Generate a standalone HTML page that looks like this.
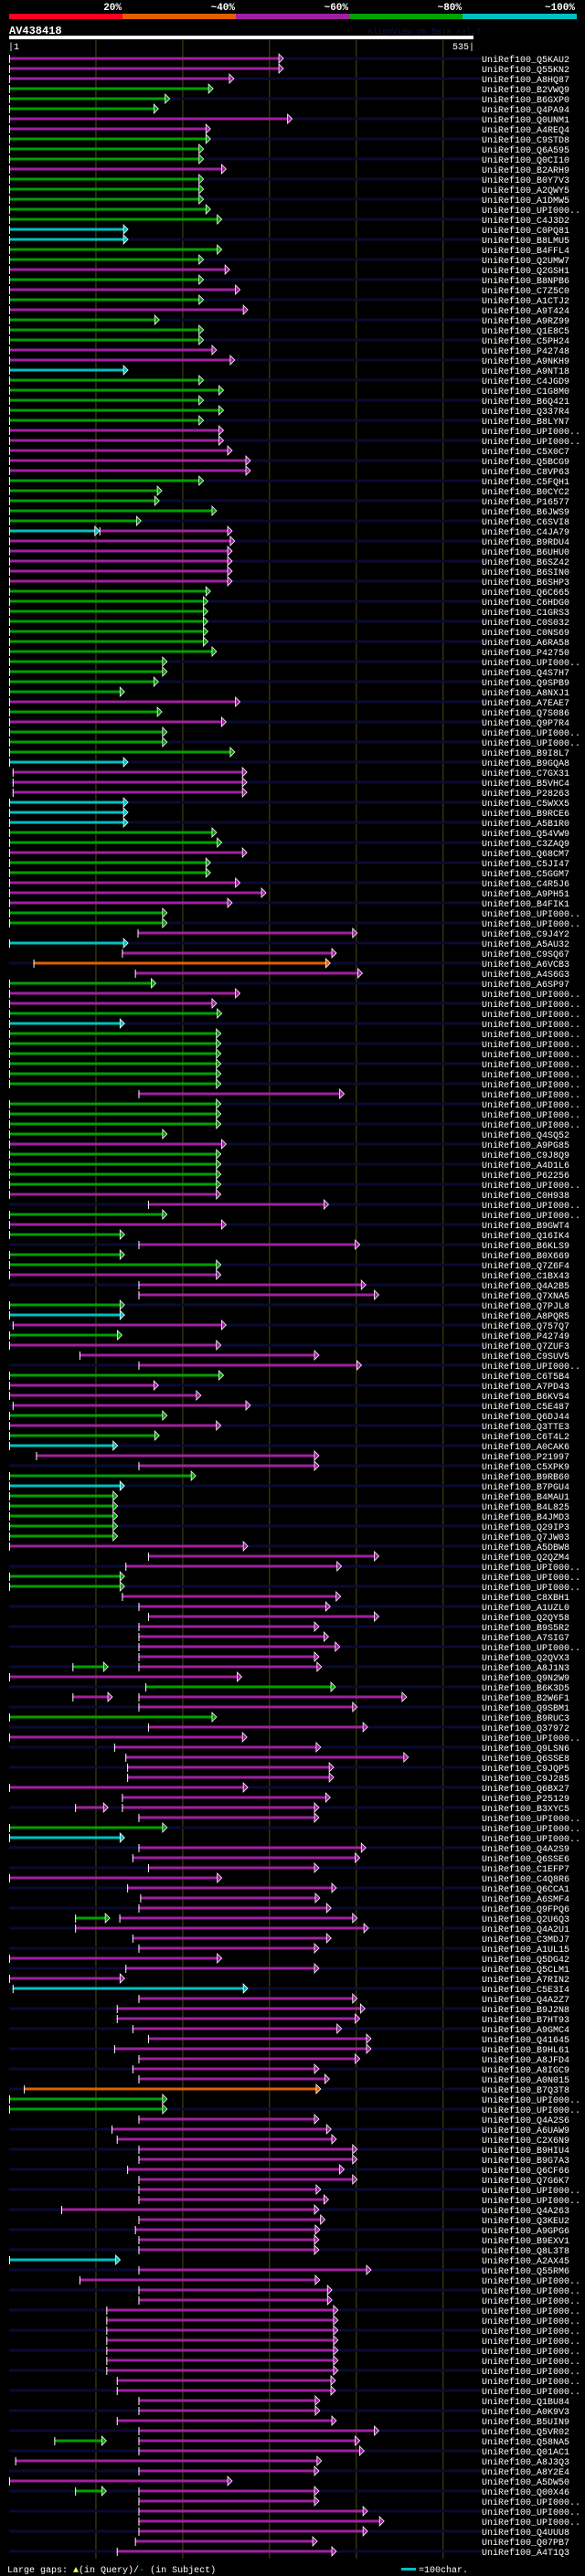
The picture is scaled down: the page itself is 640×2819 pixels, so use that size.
<!DOCTYPE html>
<html><head><meta charset="utf-8"><title>AV438418 alignment</title>
<style>
html,body{margin:0;padding:0;background:#000;}
svg{display:block;font-family:"Liberation Mono","DejaVu Sans Mono",monospace;}
</style></head>
<body>
<svg id="chart" width="640" height="2819" viewBox="0 0 640 2819" xmlns="http://www.w3.org/2000/svg">
<rect x="0" y="0" width="640" height="2819" fill="#000"/>
<g font-weight="bold" font-size="11" fill="#fff" text-anchor="end">
<text x="133" y="11">20%</text>
<text x="257" y="11">~40%</text>
<text x="381" y="11">~60%</text>
<text x="505" y="11">~80%</text>
<text x="629" y="11">~100%</text>
</g>
<rect x="10" y="15" width="124" height="6" fill="#ff0020"/>
<rect x="134" y="15" width="124" height="6" fill="#e06000"/>
<rect x="258" y="15" width="124" height="6" fill="#a020a0"/>
<rect x="382" y="15" width="124" height="6" fill="#00a000"/>
<rect x="506" y="15" width="125" height="6" fill="#00c0c0"/>
<text x="10" y="37" font-size="12" font-weight="bold" fill="#fff">AV438418</text>
<text x="402" y="37" font-size="9" fill="#101048">AlignView.pm Beta rel.7</text>
<rect x="10" y="39" width="508" height="4" fill="#fff"/>
<text x="9" y="54" font-size="10" fill="#fff">|1</text>
<text x="519" y="54" font-size="10" fill="#fff" text-anchor="end">535|</text>
<g id="grid"></g>
<g id="rows"></g>
<g font-size="10" fill="#fff">
<text x="8" y="2815">Large gaps: <tspan fill="#ffff60">▲</tspan>(in Query)/<tspan fill="#00c0c0">-</tspan> (in Subject)</text>
<rect x="439" y="2810" width="16" height="3" fill="#00c0c0"/>
<text x="458" y="2815">=100char.</text>
</g>
</svg>
<script>
const U="UPI000..";
const names=["Q5KAU2","Q55KN2","A8HQ87","B2VWQ9","B6GXP0","Q4PA94","Q0UNM1","A4REQ4","C9STD8","Q6A595","Q0CI10","B2ARH9","B0Y7V3","A2QWY5","A1DMW5",U,"C4J3D2","C0PQ81","B8LMU5","B4FFL4","Q2UMW7","Q2GSH1","B8NPB6","C7Z5C0","A1CTJ2",
"A9T424","A9RZ99","Q1E8C5","C5PH24","P42748","A9NKH9","A9NT18","C4JGD9","C1G8M0","B6Q421","Q337R4","B8LYN7",U,U,"C5X0C7","Q5BCG9","C8VP63","C5FQH1","B0CYC2","P16577","B6JWS9","C6SVI8","C4JA79","B9RDU4","B6UHU0",
"B6SZ42","B6SIN0","B6SHP3","Q6C665","C6HDG0","C1GRS3","C0S032","C0NS69","A6RA58","P42750",U,"Q4S7H7","Q9SPB9","A8NXJ1","A7EAE7","Q7S086","Q9P7R4",U,U,"B9I8L7","B9GQA8","C7GX31","B5VHC4","P28263","C5WXX5",
"B9RCE6","A5B1R0","Q54VW9","C3ZAQ9","Q68CM7","C5JI47","C5GGM7","C4R5J6","A9PH51","B4FIK1",U,U,"C9J4Y2","A5AU32","C9SQ67","A6VCB3","A4S6G3","A6SP97",U,U,U,U,U,U,U,
U,U,U,U,U,U,U,"Q4SQ52","A9PG85","C9J8Q9","A4D1L6","P62256",U,"C0H938",U,U,"B9GWT4","Q16IK4","B6KLS9","B0X669","Q7Z6F4","C1BX43","Q4A2B5","Q7XNA5","Q7PJL8",
"A8PQR5","Q757Q7","P42749","Q7ZUF3","C9SUV5",U,"C6T5B4","A7PD43","B6KV54","C5E487","Q6DJ44","Q3TTE3","C6T4L2","A0CAK6","P21997","C5XPK9","B9RB60","B7PGU4","B4MAU1","B4L825","B4JMD3","Q29IP3","Q7JW03","A5DBW8","Q2QZM4",
U,U,U,"C8XBH1","A1UZL0","Q2QY58","B9S5R2","A7SIG7",U,"Q2QVX3","A8J1N3","Q9N2W9","B6K3D5","B2W6F1","Q9SBM1","B9RUC3","Q37972",U,"Q9LSN6","Q6SSE8","C9JQP5","C9J285","Q6BX27","P25129","B3XYC5",
U,U,U,"Q4A2S9","Q6SSE6","C1EFP7","C4Q8R6","Q6CCA1","A6SMF4","Q9FPQ6","Q2U6Q3","Q4A2U1","C3MDJ7","A1UL15","Q5DG42","Q5CLM1","A7RIN2","C5E3I4","Q4A2Z7","B9J2N8","B7HT93","A9GMC4","Q41645","B9HL61","A8JFD4",
"A8IGC9","A0N015","B7Q3T8",U,U,"Q4A2S6","A6UAW9","C2X6N9","B9HIU4","B9G7A3","Q6CF66","Q7G6K7",U,U,"Q4A263","Q3KEU2","A9GPG6","B9EXV1","Q8L3T8","A2AX45","Q55RM6",U,U,U,U,
U,U,U,U,U,U,U,U,"Q1BU84","A0K9V3","B5UIN9","Q5VR02","Q58NA5","Q01AC1","A8J3Q3","A8Y2E4","A5DW50","Q00X46",U,U,U,"Q4UUU8","Q07PB7","A4T1Q3"];
const colorCodes=("p p p g g g p p g g g p g g g g g c c g g p g p g "+
"p g g g p p c g g g g g p p p p p g g g g g p p p "+
"p p p g g g g g g g g g g g p g p g g g c p p p c "+
"c c g g p g g p p p g g p c p o p g p p g c g g g "+
"g g g p g g g g p g g g g p p g p g p g g p p p g "+
"c p g p p p g p p p g p g c p p g c g g g g g p p "+
"p g g p p p p p p p p p g p p g p p p p p p p p p "+
"p g c p p p p p p p p p p p p p p c p p p p p p p "+
"p p o g g p p p p p p p p p p p p p p c p p p p p "+
"p p p p p p p p p p p p p p p p p p p p p p p p").trim().split(/\s+/);
const startRes=[0,0,0,0,0,0,0,0,0,0,0,0,0,0,0,0,0,0,0,0,0,0,0,0,0,
0,0,0,0,0,0,0,0,0,0,0,0,0,0,0,0,0,0,0,0,0,0,104,0,0,
0,0,0,0,0,0,0,0,0,0,0,0,0,0,0,0,0,0,0,0,0,4,4,4,0,
0,0,0,0,0,0,0,0,0,0,0,0,148,0,130,28,145,0,0,0,0,0,0,0,0,
0,0,0,149,0,0,0,0,0,0,0,0,0,0,160,0,0,0,149,0,0,0,149,149,0,
0,4,0,0,81,149,0,0,0,4,0,0,0,0,31,149,0,0,0,0,0,0,0,0,160,
134,0,0,130,149,160,149,149,149,149,149,0,157,149,149,0,160,0,121,134,136,136,0,130,130,
149,0,0,149,142,160,0,136,151,149,127,76,142,149,0,134,0,4,149,124,124,142,160,121,149,
142,149,17,0,0,149,118,124,149,149,136,149,149,149,60,149,145,149,149,0,149,81,149,149,112,
112,112,112,112,112,112,124,124,149,149,124,149,149,149,7,149,0,149,149,149,149,149,145,124];
const endRes=[316,316,259,235,185,172,326,232,232,224,224,250,224,224,224,232,245,137,137,245,224,254,224,266,224,
275,173,224,224,239,260,137,224,247,224,247,224,247,247,257,278,278,224,176,173,239,152,257,260,257,
257,257,257,232,229,229,229,229,229,239,182,182,172,133,266,176,250,182,182,260,137,274,274,274,137,
137,137,239,245,274,232,232,266,296,257,182,182,401,137,377,370,407,169,266,239,245,133,244,244,244,
244,244,244,386,244,244,244,182,250,244,244,244,244,244,368,182,250,133,404,133,244,244,411,426,133,
133,250,130,244,357,406,247,172,221,278,182,244,173,125,357,357,215,133,125,125,125,125,125,275,426,
383,133,133,382,370,426,357,368,381,357,360,268,376,458,401,239,413,274,359,460,374,374,275,370,357,
357,182,133,411,404,357,245,377,358,371,401,414,371,357,245,357,133,275,401,410,404,383,417,417,404,
357,369,359,182,182,357,371,377,401,401,386,401,359,368,357,364,358,357,357,128,417,358,372,372,379,
379,379,379,379,379,379,376,376,358,358,377,426,404,409,360,357,257,357,357,413,432,413,355,377];
const extraRow=[48,161,164,175,186,238,243];
const extraColor=["c","g","p","p","g","g","g"];
const extraStart=[0,73,73,76,76,52,76];
const extraEnd=[104,114,119,114,116,112,112];

const COL={p:"#a020a0",g:"#00a000",c:"#00c0c0",o:"#e06000"};
const NS="http://www.w3.org/2000/svg";
const xScale=r=>10+r*(508/535);
const rowY=i=>64+i*11;
const grid=document.getElementById("grid");
const rowsG=document.getElementById("rows");
function mk(tag,attrs,parent){const e=document.createElementNS(NS,tag);for(const k in attrs)e.setAttribute(k,attrs[k]);parent.appendChild(e);return e;}

[100,200,300,400,500].forEach(t=>{
  const l=mk("line",{x1:xScale(t),x2:xScale(t),y1:44,y2:2800,stroke:"#4a4a18","stroke-width":1},grid);
  
  
});

function drawSeg(g,y,c,s,e){
  const xs=xScale(s),xe=xScale(e);
  const b=mk("rect",{x:xs,y:y-1.5,width:Math.max(0,xe-5-xs),height:3,fill:COL[c]},g);
  
  
  const a=mk("polygon",{points:(xe-5)+","+(y-5)+" "+xe+","+y+" "+(xe-5)+","+(y+5),fill:COL[c],stroke:"#fff","stroke-width":0.8},g);
  
  
  const t=mk("line",{x1:xs+0.5,x2:xs+0.5,y1:y-4,y2:y+5,stroke:"#fff","stroke-width":1},g);
  
  
}

for(let i=0;i<names.length;i++){
  const y=rowY(i);
  const g=mk("g",{},rowsG);
  
  
  if(i%2===0){
    const s=mk("rect",{x:10,y:y-1.5,width:518,height:3,fill:"#0a0a32"},g);
    
    
  }
  const k=extraRow.indexOf(i+1);
  if(k>=0) drawSeg(g,y,extraColor[k],extraStart[k],extraEnd[k]);
  drawSeg(g,y,colorCodes[i],startRes[i],endRes[i]);
  const tx=mk("text",{x:527,y:y+4,"font-size":10,fill:"#fff"},g);
  tx.textContent="UniRef100_"+names[i];
  
  
}
</script>
</body></html>
